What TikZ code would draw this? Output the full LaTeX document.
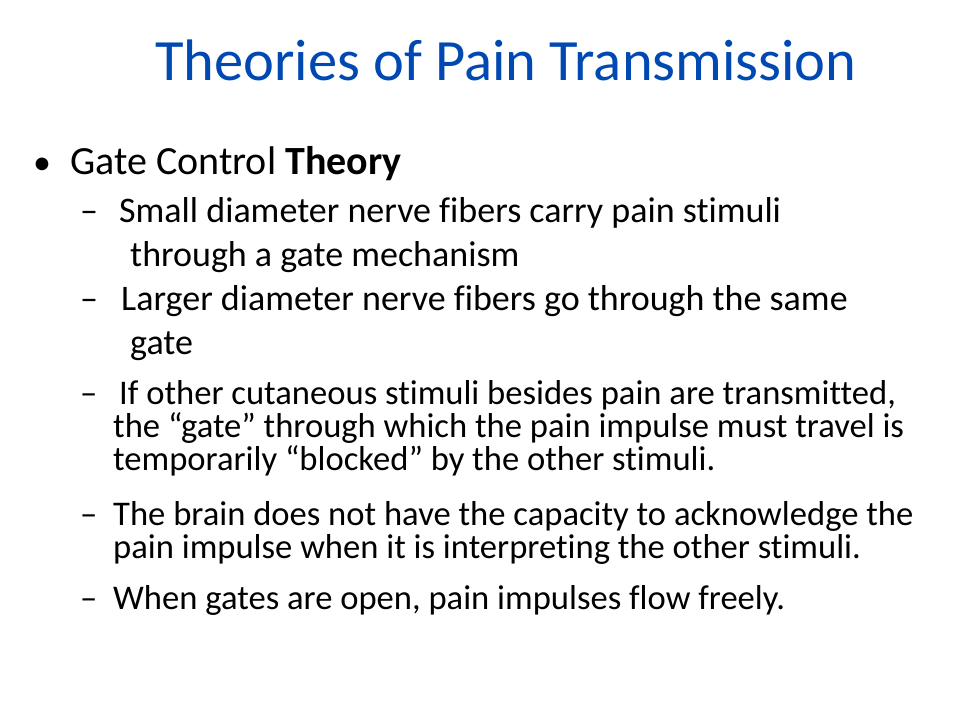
\documentclass[tikz,border=0pt]{standalone}
\usepackage{fontspec}
\setmainfont{Carlito}[Ligatures={NoCommon,TeX}]
\definecolor{ttl}{RGB}{0,72,178}
\begin{document}
\begin{tikzpicture}[x=1pt,y=-1pt,
 t/.style={anchor=base west,inner sep=0pt,font=\fontsize{36}{40}\selectfont},
 ts/.style={anchor=base west,inner sep=0pt,font=\fontsize{34.6}{40}\selectfont}]
\useasboundingbox (0,0) rectangle (960,720);
\node[anchor=base,inner sep=0pt,text=ttl,font=\fontsize{58.5}{62}\selectfont] (title) at (506,80) {Theories of Pain Transmission};
\node[anchor=base west,inner sep=0pt,font=\fontsize{36}{40}\selectfont] (b) at (33,174) {•};
\node[anchor=base west,inner sep=0pt,font=\fontsize{40}{44}\selectfont] (g) at (70,174) {Gate Control \textbf{Theory}};
\node[t] (d1) at (80,222) {–};
\node[t] (l1) at (119,222) {Small diameter nerve fibers carry pain stimuli};
\node[t] (l2) at (130,266) {through a gate mechanism};
\node[t] (d2) at (80,310) {–};
\node[t] (l3) at (121,310) {Larger diameter nerve fibers go through the same};
\node[t] (l4) at (130,354) {gate};
\node[ts] (d3) at (80,404) {–};
\node[ts] (l5) at (119,404) {If other cutaneous stimuli besides pain are transmitted,};
\node[ts] (l6) at (113,437) {the “gate” through which the pain impulse must travel is};
\node[ts] (l7) at (113,470) {temporarily “blocked” by the other stimuli.};
\node[ts] (d4) at (80,525) {–};
\node[ts] (l8) at (113,525) {The brain does not have the capacity to acknowledge the};
\node[ts] (l9) at (113,558) {pain impulse when it is interpreting the other stimuli.};
\node[ts] (d5) at (80,609) {–};
\node[ts] (l10) at (113,609) {When gates are open, pain impulses flow freely.};
\end{tikzpicture}
\end{document}
